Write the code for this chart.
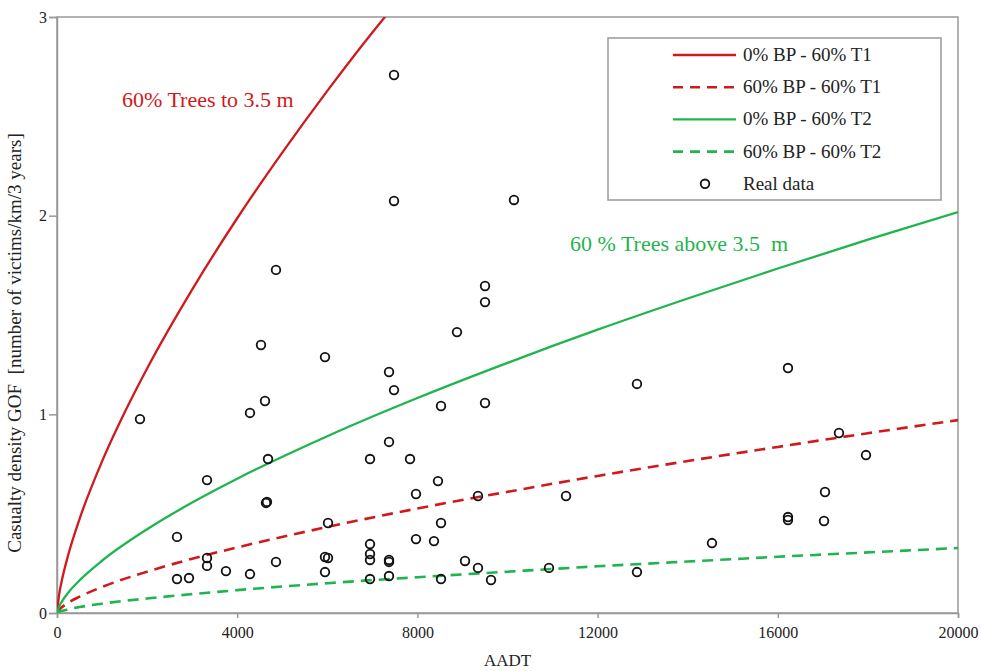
<!DOCTYPE html>
<html>
<head>
<meta charset="utf-8">
<script src="https://cdn.jsdelivr.net/npm/d3@7"></script>
<style>
  body { margin: 0; background: #fff; }
  text { font-family: 'Liberation Serif', 'Times New Roman', serif; }
</style>
</head>
<body>
<script>
// Real data (AADT, casualty density)
const realAadt = [
  1842, 7481, 7481, 10144, 4861, 9501, 9501, 8879, 4528, 5949,
  7370, 7481, 12874, 16226, 4284, 4617, 8524, 9501, 7370, 17358,
  17958, 4684, 6948, 7836, 3330, 8457, 7969, 9345, 11299, 17048,
  4639, 4661, 6016, 8524, 17026, 16226, 16226, 2664, 6948, 8368,
  7969, 14539, 3330, 3330, 5949, 6016, 6948, 6948, 7370, 7370,
  9057, 9345, 10921, 6948, 7370, 8524, 9634, 5949, 2664, 2930,
  3751, 4284, 4861, 12874
];
const realGof = [
  0.976, 2.708, 2.074, 2.079, 1.727, 1.646, 1.565, 1.414, 1.349, 1.288,
  1.213, 1.122, 1.153, 1.233, 1.007, 1.067, 1.042, 1.057, 0.861, 0.906,
  0.795, 0.775, 0.775, 0.775, 0.669, 0.664, 0.599, 0.589, 0.589, 0.609,
  0.554, 0.559, 0.453, 0.453, 0.463, 0.483, 0.468, 0.383, 0.347, 0.362,
  0.372, 0.352, 0.277, 0.237, 0.282, 0.277, 0.297, 0.267, 0.267, 0.257,
  0.262, 0.227, 0.227, 0.171, 0.186, 0.171, 0.166, 0.206, 0.171, 0.176,
  0.211, 0.196, 0.257, 0.206
];

// Model curves
const aadtShort = [0, 50, 100, 250, 500, 1000, 1500, 2000, 3000, 4000, 5000, 6000, 7000, 7400];
const bp0T1 = [0, 0.097, 0.156, 0.293, 0.473, 0.763, 1.009, 1.231, 1.628, 1.987, 2.317, 2.628, 2.922, 3.034];

const aadtFull = [0, 50, 100, 250, 500, 1000, 2000, 3000, 4000, 6000, 8000, 10000, 12000, 14000, 16000, 18000, 20000];
const bp60T1 = [0, 0.018, 0.028, 0.052, 0.082, 0.131, 0.208, 0.273, 0.330, 0.433, 0.526, 0.610, 0.690, 0.765, 0.836, 0.905, 0.971];
const bp0T2 = [0, 0.034, 0.055, 0.1025, 0.164, 0.263, 0.4215, 0.556, 0.676, 0.890, 1.082, 1.259, 1.426, 1.583, 1.734, 1.879, 2.018];
const bp60T2 = [0, 0.007, 0.010, 0.019, 0.030, 0.047, 0.073, 0.095, 0.115, 0.150, 0.180, 0.208, 0.235, 0.259, 0.283, 0.305, 0.327];

const xTicks = [0, 4000, 8000, 12000, 16000, 20000];
const yTicks = [0, 1, 2, 3];

const legendLabels = ['0% BP - 60% T1', '60% BP - 60% T1', '0% BP - 60% T2', '60% BP - 60% T2', 'Real data'];

const red = '#d0191c';
const green = '#1fb54e';

const w = 981;
const h = 671;
const margin = { top: 17, right: 23, bottom: 58, left: 57 };

const xScale = d3
  .scaleLinear()
  .domain([0, 20000])
  .range([margin.left, w - margin.right]);

const yScale = d3
  .scaleLinear()
  .domain([0, 3])
  .range([h - margin.bottom, margin.top]);

const svg = d3
  .select('body')
  .append('svg')
  .attr('width', w)
  .attr('height', h);

svg
  .append('clipPath')
  .attr('id', 'plot-area')
  .append('rect')
  .attr('x', margin.left)
  .attr('y', margin.top)
  .attr('width', w - margin.left - margin.right)
  .attr('height', h - margin.top - margin.bottom);

// Frame
svg
  .append('rect')
  .attr('x', margin.left)
  .attr('y', margin.top)
  .attr('width', w - margin.left - margin.right)
  .attr('height', h - margin.top - margin.bottom)
  .attr('fill', 'none')
  .attr('stroke', '#999')
  .attr('stroke-width', 1.5);

// Axes
const xAxis = d3
  .axisBottom(xScale)
  .tickValues(xTicks)
  .tickSize(5)
  .tickFormat(d3.format('d'));

const yAxis = d3
  .axisLeft(yScale)
  .tickValues(yTicks)
  .tickSize(8)
  .tickFormat(d3.format('d'));

const gx = svg
  .append('g')
  .attr('transform', 'translate(0,' + (h - margin.bottom) + ')')
  .call(xAxis);

const gy = svg
  .append('g')
  .attr('transform', 'translate(' + margin.left + ',0)')
  .call(yAxis);

[gx, gy].forEach(g => {
  g.select('.domain').attr('stroke', '#999').attr('stroke-width', 1.5);
  g.selectAll('.tick line').attr('stroke', '#999').attr('stroke-width', 1.5);
  g.selectAll('.tick text')
    .attr('font-family', "'Liberation Serif', serif")
    .attr('font-size', 16)
    .attr('fill', '#222');
});
gx.selectAll('.tick text').attr('dy', '1.05em');
gy.selectAll('.tick text').attr('x', -10);

// Axis titles
svg
  .append('text')
  .attr('x', (margin.left + w - margin.right) / 2)
  .attr('y', 666)
  .attr('text-anchor', 'middle')
  .attr('font-size', 17)
  .attr('fill', '#222')
  .text('AADT');

svg
  .append('text')
  .attr('transform', 'translate(21,343) rotate(-90)')
  .attr('text-anchor', 'middle')
  .attr('font-size', 19)
  .attr('fill', '#222')
  .attr('xml:space', 'preserve')
  .style('white-space', 'pre')
  .text('Casualty density GOF  [number of victims/km/3 years]');

// Curves
const line = d3
  .line()
  .x(d => xScale(d[0]))
  .y(d => yScale(d[1]))
  .curve(d3.curveMonotoneX);

const series = [
  { xs: aadtShort, ys: bp0T1, color: red, dash: null },
  { xs: aadtFull, ys: bp60T1, color: red, dash: '11,7' },
  { xs: aadtFull, ys: bp0T2, color: green, dash: null },
  { xs: aadtFull, ys: bp60T2, color: green, dash: '11,7' }
];

svg
  .append('g')
  .attr('clip-path', 'url(#plot-area)')
  .selectAll('path')
  .data(series)
  .enter()
  .append('path')
  .attr('d', s => line(s.xs.map((x, i) => [x, s.ys[i]])))
  .attr('fill', 'none')
  .attr('stroke', s => s.color)
  .attr('stroke-width', s => (s.dash ? 2.6 : 2.3))
  .attr('stroke-dasharray', s => s.dash);

// Real data points
svg
  .append('g')
  .selectAll('circle')
  .data(realAadt.map((x, i) => [x, realGof[i]]))
  .enter()
  .append('circle')
  .attr('cx', d => xScale(d[0]))
  .attr('cy', d => yScale(d[1]))
  .attr('r', 4.3)
  .attr('fill', 'none')
  .attr('stroke', '#111')
  .attr('stroke-width', 1.8);

// Curve labels
svg
  .append('text')
  .attr('x', 122)
  .attr('y', 107)
  .attr('font-size', 22)
  .attr('fill', red)
  .text('60% Trees to 3.5 m');

svg
  .append('text')
  .attr('x', 570)
  .attr('y', 251)
  .attr('font-size', 22)
  .attr('fill', green)
  .attr('xml:space', 'preserve')
  .style('white-space', 'pre')
  .text('60 % Trees above 3.5  m');

// Legend
const legend = svg.append('g').attr('transform', 'translate(608,38)');

legend
  .append('rect')
  .attr('width', 333)
  .attr('height', 162)
  .attr('fill', '#fff')
  .attr('stroke', '#999')
  .attr('stroke-width', 1.5);

const rowY = i => 17 + i * 32.2;

legend
  .selectAll('line')
  .data(series)
  .enter()
  .append('line')
  .attr('x1', 65)
  .attr('x2', 128)
  .attr('y1', (d, i) => rowY(i))
  .attr('y2', (d, i) => rowY(i))
  .attr('stroke', s => s.color)
  .attr('stroke-width', s => (s.dash ? 2.6 : 2.3))
  .attr('stroke-dasharray', s => (s.dash ? '10,7' : null));

legend
  .append('circle')
  .attr('cx', 97)
  .attr('cy', rowY(4))
  .attr('r', 4.3)
  .attr('fill', 'none')
  .attr('stroke', '#111')
  .attr('stroke-width', 1.8);

legend
  .selectAll('text')
  .data(legendLabels)
  .enter()
  .append('text')
  .attr('x', 135)
  .attr('y', (d, i) => rowY(i) + 6)
  .attr('font-size', 19)
  .attr('fill', '#222')
  .text(d => d);
</script>
</body>
</html>
